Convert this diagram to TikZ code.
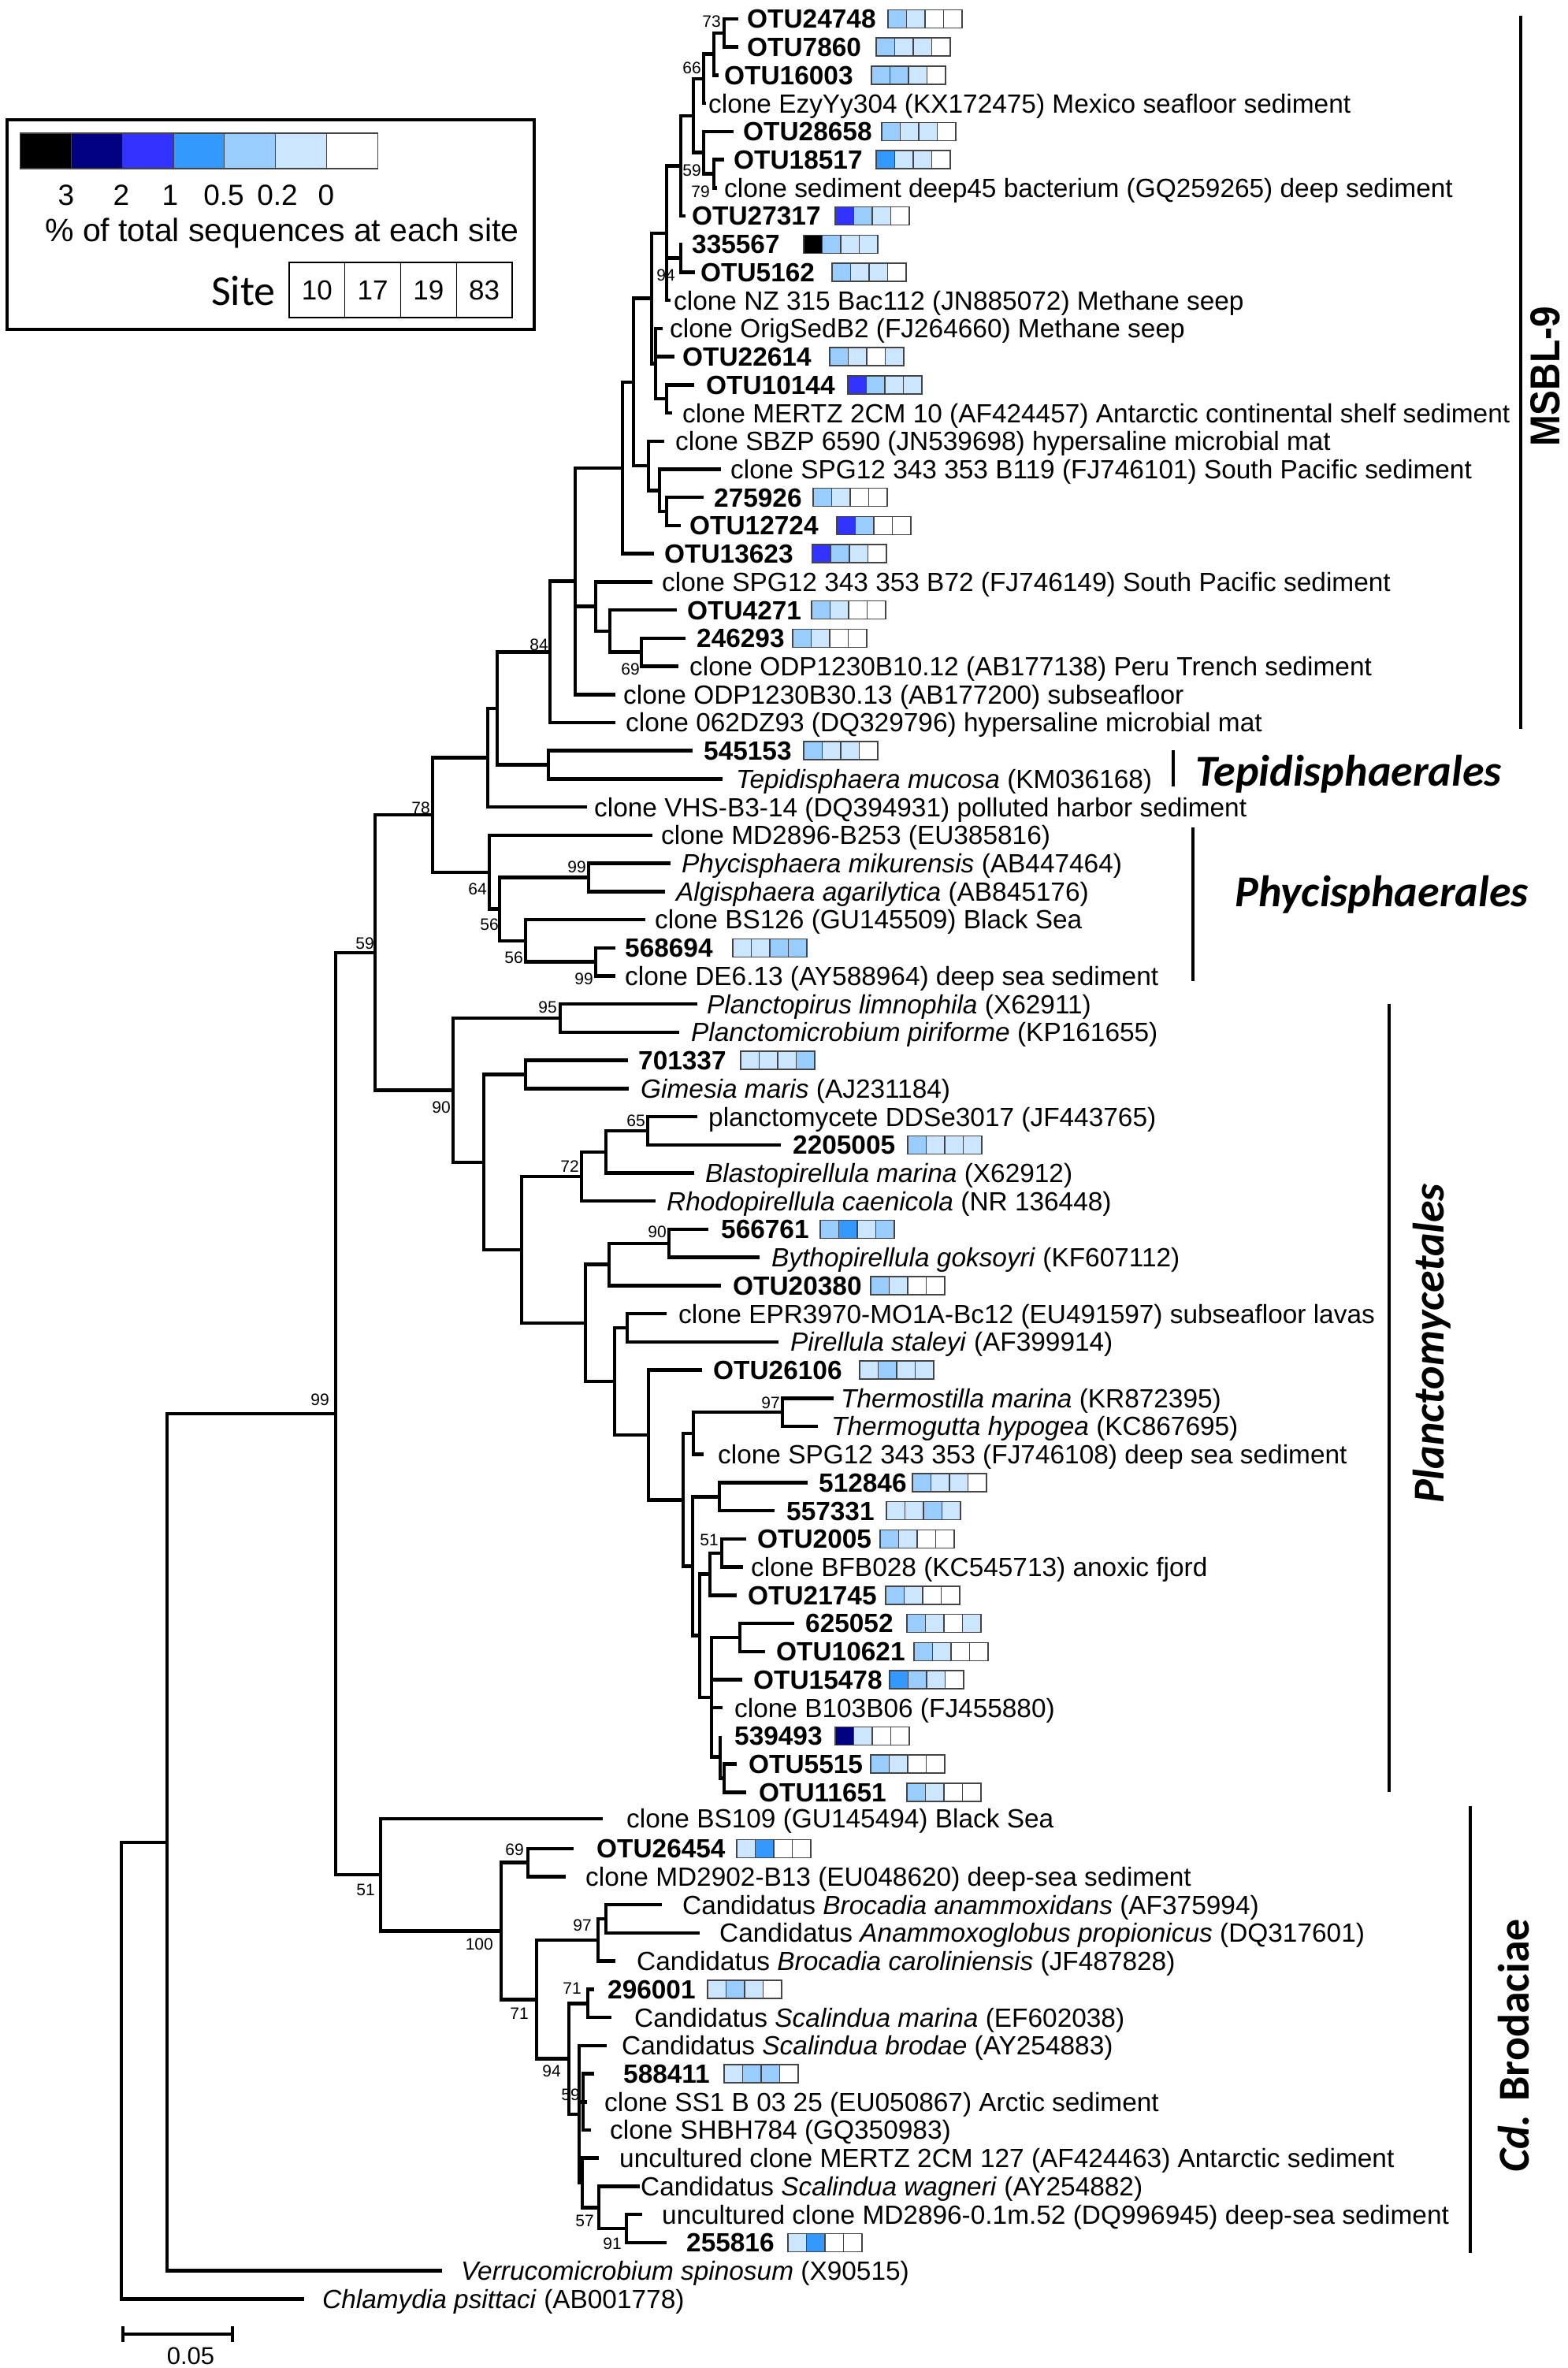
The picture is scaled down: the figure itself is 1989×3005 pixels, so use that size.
\documentclass[tikz,border=0pt]{standalone}
\usepackage{fontspec}
\setmainfont{Liberation Sans}
\newfontfamily\calfont{Carlito}
\usepackage{graphicx}
\definecolor{hK}{HTML}{000000}
\definecolor{hN}{HTML}{000080}
\definecolor{hB}{HTML}{3333FF}
\definecolor{hM}{HTML}{3399FF}
\definecolor{hL}{HTML}{99CCFF}
\definecolor{hV}{HTML}{CCE6FF}
\definecolor{hW}{HTML}{FFFFFF}
\definecolor{cellgray}{HTML}{444444}
\newcommand\fsz[1]{\fontsize{#1}{#1}\selectfont}
\newcommand\heat[6]{%
  \foreach \c [count=\i from 0] in {#3,#4,#5,#6}{%
    \filldraw[fill=\c, cellbox] ({#1+\i*23.5},{#2-11.5}) rectangle ++(23.5,23);}}
\newcommand\lf[5]{%
  \coordinate (p#1) at (#2,#3);
  \node[lab] (t#1) at (#4,#3) {#5};}
\newcommand\lfb[5]{%
  \coordinate (p#1) at (#2,#3);
  \node[lab,font=\fsz{33.4}\bfseries] (t#1) at (#4,#3) {#5};}
\begin{document}
\begin{tikzpicture}[x=1pt,y=-1pt,
  br/.style={line width=4.5pt, line join=miter},
  lab/.style={anchor=base west, inner sep=0pt, yshift=-11.9pt, font=\fsz{33.4}},
  bs/.style={anchor=base east, inner sep=0pt, yshift=-7.5pt, font=\fsz{21}},
  cellbox/.style={draw=cellgray, line width=1.5pt},
  clade/.style={line width=4pt},
  cladetxt/.style={inner sep=0pt, font=\calfont\bfseries\itshape\fsz{56}}]
\fill[white] (0,0) rectangle (1989,3005);
\useasboundingbox (0,0) rectangle (1989,3005);

% ---------- leaves ----------
\lfb{1}{937}{24.0}{948}{OTU24748} \heat{1127}{24.0}{hL}{hV}{hW}{hW}
\lfb{2}{937}{59.7}{948}{OTU7860} \heat{1112}{59.7}{hL}{hV}{hV}{hW}
\lfb{3}{912}{95.4}{919}{OTU16003} \heat{1106}{95.4}{hL}{hL}{hV}{hW}
\lf{4}{896}{131.2}{899}{clone EzyYy304 (KX172475) Mexico seafloor sediment}
\lfb{5}{931}{166.9}{943}{OTU28658} \heat{1119}{166.9}{hL}{hV}{hV}{hW}
\lfb{6}{919}{202.6}{931}{OTU18517} \heat{1112}{202.6}{hM}{hV}{hV}{hW}
\lf{7}{910}{238.3}{919}{clone sediment deep45 bacterium (GQ259265) deep sediment}
\lfb{8}{870}{274.0}{878}{OTU27317} \heat{1060}{274.0}{hB}{hL}{hV}{hW}
\lfb{9}{866}{309.8}{878}{335567} \heat{1020}{309.8}{hK}{hL}{hV}{hV}
\lfb{10}{882}{345.5}{889}{OTU5162} \heat{1056}{345.5}{hL}{hV}{hV}{hW}
\lf{11}{851}{381.2}{855}{clone NZ 315 Bac112 (JN885072) Methane seep}
\lf{12}{841}{416.9}{850}{clone OrigSedB2 (FJ264660) Methane seep}
\lfb{13}{856}{452.6}{866}{OTU22614} \heat{1053}{452.6}{hL}{hV}{hW}{hV}
\lfb{14}{881}{488.4}{896}{OTU10144} \heat{1076}{488.4}{hB}{hL}{hV}{hV}
\lf{15}{853}{524.1}{866}{clone MERTZ 2CM 10 (AF424457) Antarctic continental shelf sediment}
\lf{16}{843}{559.8}{857}{clone SBZP 6590 (JN539698) hypersaline microbial mat}
\lf{17}{915}{595.5}{927}{clone SPG12 343 353 B119 (FJ746101) South Pacific sediment}
\lfb{18}{893}{631.2}{906}{275926} \heat{1032}{631.2}{hL}{hV}{hW}{hW}
\lfb{19}{864}{667.0}{875}{OTU12724} \heat{1062}{667.0}{hB}{hL}{hW}{hW}
\lfb{20}{830}{702.7}{843}{OTU13623} \heat{1031}{702.7}{hB}{hL}{hV}{hW}
\lf{21}{828}{738.4}{840}{clone SPG12 343 353 B72 (FJ746149) South Pacific sediment}
\lfb{22}{859}{774.1}{872}{OTU4271} \heat{1030}{774.1}{hL}{hV}{hW}{hW}
\lfb{23}{870}{809.8}{884}{246293} \heat{1006}{809.8}{hL}{hV}{hW}{hW}
\lf{24}{861}{845.6}{875}{clone ODP1230B10.12 (AB177138) Peru Trench sediment}
\lf{25}{781}{881.3}{791}{clone ODP1230B30.13 (AB177200) subseafloor}
\lf{26}{781}{917.0}{794}{clone 062DZ93 (DQ329796) hypersaline microbial mat}
\lfb{27}{879}{952.7}{893}{545153} \heat{1020}{952.7}{hL}{hV}{hV}{hW}
\lf{28}{917}{988.4}{934}{\textit{Tepidisphaera mucosa} (KM036168)}
\lf{29}{745}{1024.2}{754}{clone VHS-B3-14 (DQ394931) polluted harbor sediment}
\lf{30}{828}{1059.9}{839}{clone MD2896-B253 (EU385816)}
\lf{31}{851}{1095.6}{865}{\textit{Phycisphaera mikurensis} (AB447464)}
\lf{32}{844}{1131.3}{858}{\textit{Algisphaera agarilytica} (AB845176)}
\lf{33}{819}{1167.0}{831}{clone BS126 (GU145509) Black Sea}
\lfb{34}{781}{1202.8}{793}{568694} \heat{930}{1202.8}{hV}{hV}{hL}{hL}
\lf{35}{781}{1238.5}{793}{clone DE6.13 (AY588964) deep sea sediment}
\lf{36}{885}{1274.2}{897}{\textit{Planctopirus limnophila} (X62911)}
\lf{37}{862}{1309.9}{877}{\textit{Planctomicrobium piriforme} (KP161655)}
\lfb{38}{797}{1345.6}{810}{701337} \heat{940}{1345.6}{hV}{hV}{hV}{hL}
\lf{39}{798}{1381.4}{813}{\textit{Gimesia maris} (AJ231184)}
\lf{40}{885}{1417.1}{899}{planctomycete DDSe3017 (JF443765)}
\lfb{41}{991}{1452.8}{1006}{2205005} \heat{1152}{1452.8}{hL}{hV}{hV}{hV}
\lf{42}{881}{1488.5}{895}{\textit{Blastopirellula marina} (X62912)}
\lf{43}{832}{1524.2}{846}{\textit{Rhodopirellula caenicola} (NR 136448)}
\lfb{44}{899}{1560.0}{915}{566761} \heat{1041}{1560.0}{hL}{hM}{hV}{hL}
\lf{45}{964}{1595.7}{979}{\textit{Bythopirellula goksoyri} (KF607112)}
\lfb{46}{915}{1631.4}{930}{OTU20380} \heat{1105}{1631.4}{hL}{hV}{hW}{hW}
\lf{47}{846}{1667.1}{861}{clone EPR3970-MO1A-Bc12 (EU491597) subseafloor lavas}
\lf{48}{988}{1702.8}{1003}{\textit{Pirellula staleyi} (AF399914)}
\lfb{49}{891}{1738.6}{905}{OTU26106} \heat{1091}{1738.6}{hV}{hL}{hV}{hV}
\lf{50}{1058}{1774.3}{1067}{\textit{Thermostilla marina} (KR872395)}
\lf{51}{1038}{1810.0}{1055}{\textit{Thermogutta hypogea} (KC867695)}
\lf{52}{893}{1845.7}{911}{clone SPG12 343 353 (FJ746108) deep sea sediment}
\lfb{53}{1025}{1881.4}{1039}{512846} \heat{1158}{1881.4}{hL}{hV}{hV}{hW}
\lfb{54}{983}{1917.2}{998}{557331} \heat{1125}{1917.2}{hV}{hV}{hL}{hV}
\lfb{55}{947}{1952.9}{961}{OTU2005} \heat{1117}{1952.9}{hL}{hV}{hW}{hW}
\lf{56}{943}{1988.6}{953}{clone BFB028 (KC545713) anoxic fjord}
\lfb{57}{935}{2024.3}{949}{OTU21745} \heat{1124}{2024.3}{hL}{hV}{hW}{hW}
\lfb{58}{1008}{2060.0}{1022}{625052} \heat{1151}{2060.0}{hL}{hV}{hW}{hV}
\lfb{59}{971}{2095.8}{985}{OTU10621} \heat{1160}{2095.8}{hL}{hV}{hW}{hW}
\lfb{60}{942}{2131.5}{956}{OTU15478} \heat{1129}{2131.5}{hM}{hL}{hV}{hW}
\lf{61}{917}{2167.2}{932}{clone B103B06 (FJ455880)}
\lfb{62}{914}{2202.9}{932}{539493} \heat{1060}{2202.9}{hN}{hV}{hW}{hW}
\lfb{63}{935}{2238.6}{950}{OTU5515} \heat{1105}{2238.6}{hL}{hV}{hW}{hW}
\lfb{64}{947}{2274.4}{963}{OTU11651} \heat{1151}{2274.4}{hL}{hV}{hW}{hW}
\lf{65}{765}{2308.0}{795}{clone BS109 (GU145494) Black Sea}
\lfb{66}{728}{2345.8}{757}{OTU26454} \heat{935}{2345.8}{hV}{hM}{hW}{hW}
\lf{67}{718}{2381.5}{743}{clone MD2902-B13 (EU048620) deep-sea sediment}
\lf{68}{840}{2417.2}{866}{Candidatus \textit{Brocadia anammoxidans} (AF375994)}
\lf{69}{888}{2453.0}{913}{Candidatus \textit{Anammoxoglobus propionicus} (DQ317601)}
\lf{70}{781}{2488.7}{808}{Candidatus \textit{Brocadia caroliniensis} (JF487828)}
\lfb{71}{754}{2524.4}{771}{296001} \heat{898}{2524.4}{hV}{hL}{hV}{hW}
\lf{72}{776}{2560.1}{805}{Candidatus \textit{Scalindua marina} (EF602038)}
\lf{73}{770}{2595.8}{789}{Candidatus \textit{Scalindua brodae} (AY254883)}
\lfb{74}{754}{2631.6}{791}{588411} \heat{919}{2631.6}{hV}{hL}{hL}{hW}
\lf{75}{745}{2667.3}{767}{clone SS1 B 03 25 (EU050867) Arctic sediment}
\lf{76}{750}{2703.0}{774}{clone SHBH784 (GQ350983)}
\lf{77}{760}{2738.7}{786}{uncultured clone MERTZ 2CM 127 (AF424463) Antarctic sediment}
\lf{78}{812}{2774.4}{813}{Candidatus \textit{Scalindua wagneri} (AY254882)}
\lf{79}{815}{2810.2}{840}{uncultured clone MD2896-0.1m.52 (DQ996945) deep-sea sediment}
\lfb{80}{846}{2845.9}{871}{255816} \heat{1000}{2845.9}{hV}{hM}{hW}{hW}
\lf{81}{561}{2881.6}{585}{\textit{Verrucomicrobium spinosum} (X90515)}
\lf{82}{386}{2917.3}{409}{\textit{Chlamydia psittaci} (AB001778)}

% ---------- internal nodes ----------
\foreach \n/\x/\y in {n73/919/41.9, n66/906/68.6, nA/893/99.9, n79/906/220.5,
  n59/893/193.7, nB/880/146.8, nC/864/210.4, n94/864/327.6, nD/846/295.8,
  nE2/846/506.2, nE/832/461.6, nF/827/378.7, nG2/846/649.1, nG1/837/622.3,
  nG/823/591.1, nH/804/484.9, nI/790/593.8, n69/814/827.7, nJ2/774/800.9,
  nJ/756/769.7, nK/730/737.6, n84/698/827.3, nTep/696/970.6, nL/631/899.0,
  nM/619/961.6, n99a/747/1113.5, n99b/756/1220.7, n56b/667/1193.9,
  n56a/634/1153.7, n64/621/1106.8, n78/549/1034.2, n95/711/1292.1,
  nGim/667/1363.5, n65/822/1435.0, nBl/769/1461.8, n72/738/1493.0,
  n90b/849/1577.9, nBy/773/1604.7, nPir/796/1685.0, n97/993/1792.2,
  nTh/880/1819.0, nS1/913/1899.3, n51b/916/1970.8, nS2/901/1997.6,
  nS3/939/2077.9, nS4b/919/2256.5, nS4/914/2229.7, nS5/903/2153.8,
  nS6/888/2075.7, nS7/879/1987.5, nS8/867/1903.3, nS9/823/1821.0,
  nS10/780/1753.0, nS11/743/1678.9, nS12/662/1586.0, nS13/614/1474.8,
  n90a/575/1383.5, n59b/476/1208.9, n69b/670/2363.7, nBr1/769/2435.1,
  n97b/759/2461.9, n71b/746/2542.3, nSc1/740/2667.3, n91/795/2828.1,
  n57/760/2801.3, nSc2/739/2770.0, nSc/735/2682.9, n94b/722/2612.6,
  n71a/681/2537.3, n100/636/2450.5, nBS/483/2379.2, n99r/426/1794.0,
  nV/212/2337.8, nR/154/2627.5}
  \coordinate (\n) at (\x,\y);

% ---------- branches ----------
\foreach \a/\b in {n73/p1, n73/p2, n66/n73, n66/p3, nA/n66, nA/p4,
  n79/p6, n79/p7, n59/p5, n59/n79, nB/nA, nB/n59, nC/nB, nC/p8,
  n94/p9, n94/p10, nD/nC, nD/n94, nD/p11, nE2/p14, nE2/p15,
  nE/p12, nE/p13, nE/nE2, nF/nD, nF/nE, nG2/p18, nG2/p19,
  nG1/p17, nG1/nG2, nG/p16, nG/nG1, nH/nF, nH/nG, nI/nH, nI/p20,
  n69/p23, n69/p24, nJ2/p22, nJ2/n69, nJ/p21, nJ/nJ2,
  nK/nI, nK/nJ, nK/p25, n84/nK, n84/p26, nTep/p27, nTep/p28,
  nL/n84, nL/nTep, nM/nL, nM/p29,
  n99a/p31, n99a/p32, n99b/p34, n99b/p35, n56b/p33, n56b/n99b,
  n56a/n99a, n56a/n56b, n64/p30, n64/n56a, n78/nM, n78/n64,
  n95/p36, n95/p37, nGim/p38, nGim/p39, n65/p40, n65/p41,
  nBl/n65, nBl/p42, n72/nBl, n72/p43, n90b/p44, n90b/p45,
  nBy/n90b, nBy/p46, nPir/p47, nPir/p48, n97/p50, n97/p51,
  nTh/n97, nTh/p52, nS1/p53, nS1/p54, n51b/p55, n51b/p56,
  nS2/n51b, nS2/p57, nS3/p58, nS3/p59, nS4b/p63, nS4b/p64,
  nS4/p62, nS4/nS4b, nS5/nS3, nS5/p60, nS5/p61, nS5/nS4,
  nS6/nS2, nS6/nS5, nS7/nS1, nS7/nS6, nS8/nTh, nS8/nS7,
  nS9/p49, nS9/nS8, nS10/nPir, nS10/nS9, nS11/nBy, nS11/nS10,
  nS12/n72, nS12/nS11, nS13/nGim, nS13/nS12, n90a/n95, n90a/nS13,
  n59b/n78, n59b/n90a,
  n69b/p66, n69b/p67, nBr1/p68, nBr1/p69, n97b/nBr1, n97b/p70,
  n71b/p71, n71b/p72, nSc1/p74, nSc1/p75, nSc1/p76, n91/p79, n91/p80,
  n57/p78, n57/n91, nSc2/p77, nSc2/n57, nSc/p73, nSc/nSc1, nSc/nSc2,
  n94b/n71b, n94b/nSc, n71a/n97b, n71a/n94b, n100/n69b, n100/n71a,
  nBS/p65, nBS/n100, n99r/n59b, n99r/nBS, nV/n99r, nV/p81,
  nR/nV, nR/p82}
  \draw[br] (\a) |- (\b);

% ---------- bootstrap values ----------
\foreach \t/\x/\y [count=\k] in {73/915/27, 66/890/86, 59/890/216, 79/901/243,
  94/857/349, 84/696/818, 69/812/849, 78/546/1025, 64/618/1128, 99/744/1100,
  56/633/1173, 56/664/1215, 99/753/1242, 59/475/1197, 95/707/1278,
  90/572/1405, 65/819/1422, 72/735/1480, 90/846/1563, 97/990/1780,
  51/912/1954, 99/418/1776, 51/476/2398, 69/665/2347, 100/626/2467,
  97/751/2443, 71/671/2555, 71/738/2523, 94/712/2628, 59/736/2658,
  57/754/2818, 91/789/2847}
  \node[bs] (b\k) at (\x,\y) {\t};

% ---------- legend ----------
\draw[line width=3.5pt] (9,152) rectangle (678,418);
\foreach \c [count=\i from 0] in {hK,hN,hB,hM,hL,hV,hW}
  \filldraw[fill=\c, draw=cellgray, line width=1.2pt] ({25.5+\i*64.8},169) rectangle ++(64.8,45);
\foreach \t/\x [count=\k] in {3/84, 2/154, 1/216, 0.5/284, 0.2/352, 0/414}
  \node[anchor=base, inner sep=0pt, font=\fsz{37}] (lg\k) at (\x,260) {\t};
\node[anchor=base west, inner sep=0pt, font=\fsz{41}] (lgcap) at (57,306) {\% of total sequences at each site};
\node[anchor=base west, inner sep=0pt, font=\calfont\fsz{54}] (lgsite) at (268,387) {Site};
\foreach \s [count=\i from 0] in {10,17,19,83}{
  \draw[line width=1.2pt] ({367+\i*70.75},333) rectangle ++(70.75,70);
  \node[font=\fsz{35}, inner sep=0pt] (st\s) at ({402.4+\i*70.75},368) {\s};}

% ---------- clade bars ----------
\coordinate (m1) at (1930,20); \coordinate (m2) at (1930,925);
\draw[clade] (m1) -- (m2);
\node[rotate=90, anchor=base, inner sep=0pt, font=\fsz{53}\bfseries] (lmsbl) at (1979,478) {\scalebox{0.9}[1]{MSBL-9}};
\coordinate (te1) at (1489,952); \coordinate (te2) at (1489,998);
\draw[clade] (te1) -- (te2);
\node[cladetxt, anchor=base west] (ltep) at (1517,997) {Tepidisphaerales};
\coordinate (ph1) at (1514,1050); \coordinate (ph2) at (1514,1245);
\draw[clade] (ph1) -- (ph2);
\node[cladetxt, anchor=base west] (lphy) at (1567,1150) {Phycisphaerales};
\coordinate (pl1) at (1763,1274); \coordinate (pl2) at (1763,2274);
\draw[clade] (pl1) -- (pl2);
\node[cladetxt, rotate=90, anchor=base] (lpla) at (1832,1705) {Planctomycetales};
\coordinate (cd1) at (1866,2292); \coordinate (cd2) at (1866,2859);
\draw[clade] (cd1) -- (cd2);
\node[rotate=90, anchor=base, inner sep=0pt, font=\calfont\bfseries\fsz{56}] (lcd) at (1940,2596) {\textit{Cd.} Brodaciae};

% ---------- scale bar ----------
\coordinate (sb1) at (156,2962); \coordinate (sb2) at (295,2962);
\draw[line width=4pt] (sb1) -- (sb2);
\draw[line width=4pt] (156,2952) -- (156,2972);
\draw[line width=4pt] (295,2952) -- (295,2972);
\node[font=\fsz{31}, inner sep=0pt] (sblab) at (242,2990) {0.05};
\end{tikzpicture}
\end{document}
